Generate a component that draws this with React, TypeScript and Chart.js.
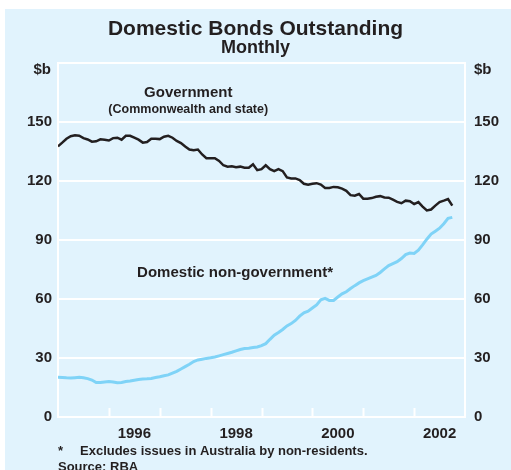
import React, { useEffect, useRef } from "react";
import { Chart, registerables } from "chart.js";

Chart.register(...registerables);

// ---- Data (monthly, Jan 1995 – Oct 2002), $ billion ----
const START_YEAR = 1995;
const government = [
  137.6, 139.5, 141.5, 142.8, 143.2, 143.0, 141.8, 141.1, 140.0, 140.2, 141.2, 141.0,
  140.6, 141.8, 142.0, 141.0, 143.0, 143.0, 142.0, 141.0, 139.5, 139.8, 141.5, 141.5,
  141.3, 142.5, 143.0, 142.0, 140.4, 139.3, 137.5, 136.0, 135.6, 136.0, 133.5, 131.6,
  131.6, 131.6, 130.2, 128.0, 127.3, 127.5, 127.0, 127.3, 126.7, 126.7, 128.5, 125.5,
  126.0, 128.0, 126.0, 125.0, 126.0, 125.0, 121.8, 121.3, 121.3, 120.5, 118.6, 118.1,
  118.6, 118.9, 118.2, 116.5, 116.5, 117.0, 116.8, 116.1, 115.0, 112.8, 112.5, 113.4,
  111.0, 111.0, 111.3, 112.0, 112.3, 111.6, 111.5, 110.5, 109.4, 108.7, 110.0, 109.7,
  108.3, 109.3, 107.0, 105.0, 105.5, 107.5, 109.3, 110.0, 110.8, 107.5,
];
const nonGovernment = [
  20.2, 20.1, 19.9, 19.8, 20.0, 20.2, 20.0, 19.5, 18.8, 17.5, 17.5, 17.8,
  18.0, 17.8, 17.4, 17.5, 18.0, 18.3, 18.7, 19.1, 19.3, 19.4, 19.6, 20.1,
  20.5, 21.0, 21.4, 22.3, 23.2, 24.4, 25.6, 26.8, 28.2, 29.0, 29.4, 29.8,
  30.1, 30.5, 31.1, 31.7, 32.3, 32.9, 33.6, 34.3, 34.8, 35.0, 35.3, 35.6,
  36.3, 37.3, 39.5, 41.6, 43.0, 44.5, 46.3, 47.5, 49.1, 51.3, 53.0, 53.8,
  55.4, 57.0, 59.6, 60.3, 59.3, 59.3, 61.0, 62.6, 63.7, 65.3, 66.8, 68.2,
  69.3, 70.2, 71.1, 72.0, 73.5, 75.3, 77.0, 78.0, 79.0, 80.6, 82.6, 83.4,
  83.2, 84.8, 87.5, 90.4, 93.0, 94.5, 96.0, 98.3, 101.0, 101.5,
];
const yearLabels = ["1996", "1998", "2000", "2002"];
const yearBoundaries = [1996, 1997, 1998, 1999, 2000, 2001, 2002];
const yTicks = [0, 30, 60, 90, 120, 150];

const TITLE = "Domestic Bonds Outstanding";
const SUBTITLE = "Monthly";
const FONT = "'Liberation Sans', Arial, Helvetica, sans-serif";
const INK = "#231f20";
const BG = "#e1f3fd";

const toPoints = (vals: number[]) =>
  vals.map((v, i) => ({ x: START_YEAR + i / 12, y: v }));

const decor = {
  id: "decor",
  beforeDraw(chart: any) {
    const { ctx, width, height } = chart;
    ctx.save();
    ctx.fillStyle = "#ffffff";
    ctx.fillRect(0, 0, width, height);
    ctx.fillStyle = BG;
    ctx.fillRect(5, 9, width - 5, height - 9);
    ctx.restore();
  },
  beforeDatasetsDraw(chart: any) {
    const { ctx, chartArea, scales } = chart;
    ctx.save();
    ctx.strokeStyle = "#ffffff";
    ctx.lineWidth = 2;
    yearBoundaries.forEach((yr) => {
      const px = Math.round(scales.x.getPixelForValue(yr)) + 0.5;
      ctx.beginPath();
      ctx.moveTo(px, chartArea.bottom - 9);
      ctx.lineTo(px, chartArea.bottom);
      ctx.stroke();
    });
    ctx.restore();
  },
  afterDraw(chart: any) {
    const { ctx, chartArea, scales } = chart;
    const x = scales.x;
    const y = scales.y;
    ctx.save();
    ctx.fillStyle = INK;
    ctx.textBaseline = "middle";
    // unit labels
    ctx.font = `bold 15px ${FONT}`;
    ctx.textAlign = "right";
    ctx.fillText("$b", chartArea.left - 7, chartArea.top + 7);
    ctx.textAlign = "left";
    ctx.fillText("$b", chartArea.right + 9, chartArea.top + 7);
    // series labels
    ctx.textAlign = "center";
    ctx.font = `bold 15px ${FONT}`;
    ctx.fillText("Government", x.getPixelForValue(1997.56), y.getPixelForValue(164.7));
    ctx.font = `bold 12.5px ${FONT}`;
    ctx.fillText("(Commonwealth and state)", x.getPixelForValue(1997.56), y.getPixelForValue(156.1));
    ctx.font = `bold 15px ${FONT}`;
    ctx.fillText("Domestic non-government*", x.getPixelForValue(1998.48), y.getPixelForValue(73.2));
    // footnotes
    ctx.textAlign = "left";
    ctx.font = `bold 13px ${FONT}`;
    ctx.fillText("*", 58, 451);
    ctx.fillText("Excludes issues in Australia by non-residents.", 80, 451);
    ctx.fillText("Source: RBA", 58, 467);
    ctx.restore();
  },
};

export default function App() {
  const ref = useRef<HTMLCanvasElement | null>(null);

  useEffect(() => {
    document.body.style.margin = "0";
    if (!ref.current) return;
    const tickFont = { family: FONT, size: 15, weight: "bold" as const };
    const chart = new Chart(ref.current, {
      type: "line",
      data: {
        datasets: [
          {
            label: "Government (Commonwealth and state)",
            data: toPoints(government),
            borderColor: INK,
            borderWidth: 2.5,
            pointRadius: 0,
            tension: 0,
            yAxisID: "y",
          },
          {
            label: "Domestic non-government*",
            data: toPoints(nonGovernment),
            borderColor: "#7fd3f7",
            borderWidth: 3,
            pointRadius: 0,
            tension: 0,
            yAxisID: "y",
          },
        ],
      },
      options: {
        animation: false,
        responsive: false,
        devicePixelRatio: 1,
        layout: { padding: { top: 0, bottom: 28, left: 0, right: 0 } },
        plugins: {
          legend: { display: false },
          tooltip: { enabled: false },
          title: {
            display: true,
            text: TITLE,
            color: INK,
            font: { family: FONT, size: 21, weight: "bold", lineHeight: 1 },
            padding: { top: 18.5, bottom: 0 },
          },
          subtitle: {
            display: true,
            text: SUBTITLE,
            color: INK,
            font: { family: FONT, size: 18, weight: "bold", lineHeight: 1 },
            padding: { top: 0, bottom: 5.5 },
          },
        },
        scales: {
          x: {
            type: "linear",
            min: START_YEAR,
            max: 2003,
            grid: { drawOnChartArea: false, drawTicks: false },
            border: { display: false },
            afterBuildTicks: (scale: any) => {
              scale.ticks = yearLabels.map((l) => ({ value: Number(l) + 0.5 }));
            },
            afterFit: (scale: any) => {
              scale.height = 25;
            },
            ticks: {
              autoSkip: false,
              maxRotation: 0,
              padding: 8,
              color: INK,
              font: tickFont,
              callback: (v: any) => String(Math.floor(Number(v))),
            },
          },
          y: {
            position: "left",
            min: 0,
            max: 180,
            afterBuildTicks: (scale: any) => {
              scale.ticks = [...yTicks, 180].map((v) => ({ value: v }));
            },
            afterFit: (scale: any) => {
              scale.width = 58;
            },
            grid: { color: "#ffffff", lineWidth: 2, drawTicks: false },
            border: { display: true, color: "#ffffff", width: 2 },
            ticks: {
              padding: 6,
              color: INK,
              font: tickFont,
              callback: (v: any) => (Number(v) === 180 ? "" : String(v)),
            },
          },
          y2: {
            position: "right",
            min: 0,
            max: 180,
            afterBuildTicks: (scale: any) => {
              scale.ticks = [...yTicks, 180].map((v) => ({ value: v }));
            },
            afterFit: (scale: any) => {
              scale.width = 46;
            },
            grid: { drawOnChartArea: false, drawTicks: false },
            border: { display: true, color: "#ffffff", width: 2 },
            ticks: {
              padding: 9,
              color: INK,
              font: tickFont,
              callback: (v: any) => (Number(v) === 180 ? "" : String(v)),
            },
          },
        },
      },
      plugins: [decor],
    });
    return () => chart.destroy();
  }, []);

  return <canvas ref={ref} width={511} height={470} style={{ display: "block" }} />;
}
